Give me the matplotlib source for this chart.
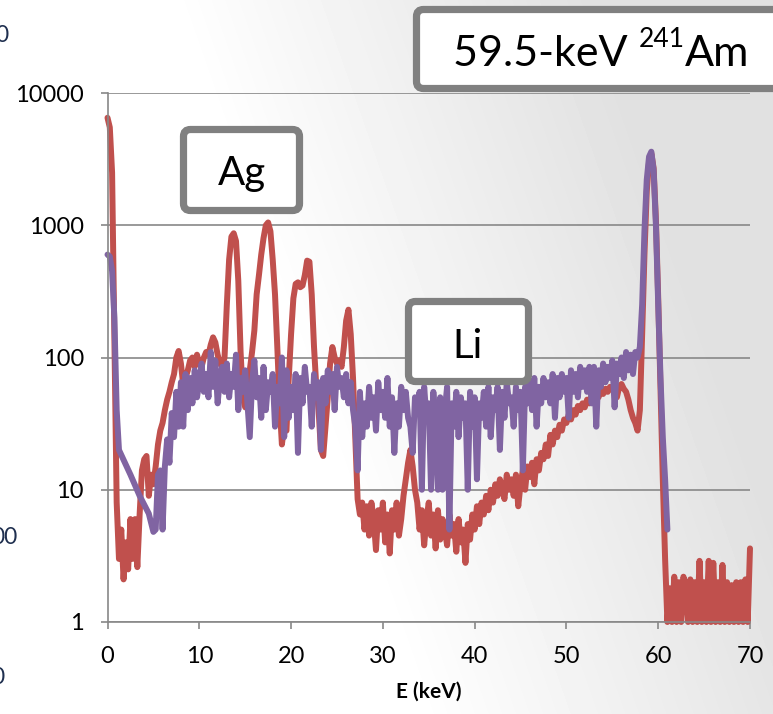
"""
241Am spectrum, Ag vs Li detector, log counts vs energy
"""
import numpy as np
import matplotlib
matplotlib.use('Agg')
import matplotlib.pyplot as plt
from matplotlib.patches import FancyBboxPatch
from matplotlib.ticker import FixedLocator, FixedFormatter, NullLocator

#######data, 0.25 keV steps#######
energy = np.arange(0, 70.001, 0.25)

nan = np.nan
# red trace (Ag)
ag_counts = np.array([
    6500, 5500, 2500, 150,    # 0
    8, 3, 5, 2.1,             # 1
    4, 2.5, 6, 3,             # 2
    6, 2.6, 6.5, 14,          # 3
    17, 18, 9, 13,            # 4
    11, 15, 22, 28,           # 5
    32, 40, 48, 55,           # 6
    65, 75, 100, 112,         # 7
    90, 62, 70, 80,           # 8
    95, 100, 85, 105,         # 9
    90, 85, 100, 110,         # 10
    105, 125, 142, 130,       # 11
    105, 90, 85, 100,         # 12
    250, 550, 820, 870,       # 13
    760, 380, 110, 50,        # 14
    42, 60, 80, 110,          # 15
    160, 300, 420, 600,       # 16
    800, 1000, 1050, 900,     # 17
    550, 300, 120, 45,        # 18
    22, 30, 28, 70,           # 19
    150, 280, 360, 370,       # 20
    340, 350, 420, 540,       # 21
    530, 300, 120, 60,        # 22
    40, 20, 18, 30,           # 23
    50, 90, 120, 100,         # 24
    90, 95, 85, 120,          # 25
    190, 230, 150, 70,        # 26
    24, 8.5, 6.5, 8,          # 27
    5, 7.5, 4.5, 8,           # 28
    6, 3.5, 7, 5,             # 29
    8, 4, 6.5, 3.3,           # 30
    7, 5, 8, 4.5,             # 31
    6, 9, 12, 16,             # 32
    20, 15, 10, 8,            # 33
    5, 7, 3.8, 6,             # 34
    8, 4.5, 6.5, 3.6,         # 35
    7, 4.2, 6, 5,             # 36
    3.8, 6.5, 4.5, 5.5,       # 37
    3.4, 6, 4, 5,             # 38
    2.8, 5.5, 4.2, 6.5,       # 39
    5, 7.5, 5.5, 8,           # 40
    6.5, 9, 7, 10,            # 41
    8, 11, 9, 12,             # 42
    10, 8.5, 13, 10,          # 43
    12, 9, 13, 7.5,           # 44
    11, 14, 10, 15,           # 45
    12.5, 16, 11, 17,         # 46
    14, 19, 17, 22,           # 47
    18, 26, 22, 28,           # 48
    25, 31, 28, 34,           # 49
    32, 37, 34, 40,           # 50
    37, 43, 40, 45,           # 51
    42, 48, 45, 52,           # 52
    47, 53, 50, 56,           # 53
    53, 58, 55, 60,           # 54
    57, 62, 50, 60,           # 55
    63, 58, 55, 48,           # 56
    40, 35, 32, 28,           # 57
    40, 150, 600, 1800,       # 58
    3000, 3500, 2700, 1100,   # 59
    280, 60, 12, 3,           # 60
    1, 1.8, 1, 2.2,           # 61
    1, 2.0, 1, 2.2,           # 62
    1.8, 1, 2.1, 1,           # 63
    2.0, 1, 2.9, 1,           # 64
    2.0, 1, 2.9, 1,           # 65
    2.8, 1, 2.0, 1,           # 66
    2.7, 1, 2.0, 1,           # 67
    1.9, 1, 2.0, 1,           # 68
    2.0, 1, 2.1, 1,           # 69
    3.6,                      # 70
])

# purple trace (Li), gaps are joined by a straight line
li_read = [
    600, 580, 450, 200,       # 0
    40, 20, nan, nan,         # 1
    nan, nan, 13, nan,        # 2
    nan, nan, 9, nan,         # 3
    nan, nan, 6.6, nan,       # 4
    4.8, 5, 13, 14,           # 5
    5, 15, 24, 16,            # 6
    38, 25, 55, 30,           # 7
    65, 30, 75, 40,           # 8
    70, 45, 80, 50,           # 9
    65, 90, 55, 75,           # 10
    50, 110, 60, 95,          # 11
    45, 70, 85, 55,           # 12
    90, 50, 75, 60,           # 13
    105, 40, 70, 55,          # 14
    80, 45, 25, 65,           # 15
    95, 50, 70, 35,           # 16
    85, 40, 65, 55,           # 17
    75, 30, 60, 45,           # 18
    100, 25, 80, 35,          # 19
    60, 40, 75, 19,           # 20
    70, 45, 85, 55,           # 21
    60, 30, 75, 50,           # 22
    65, 20, 70, 45,           # 23
    80, 55, 75, 40,           # 24
    85, 60, 70, 50,           # 25
    75, 45, 65, 40,           # 26
    30, 14, 55, 25,           # 27
    45, 30, 60, 35,           # 28
    50, 28, 65, 40,           # 29
    55, 35, 70, 30,           # 30
    50, 19, 45, 30,           # 31
    60, 40, 55, 35,           # 32
    30, 19, 50, 40,           # 33
    55, 10, 60, 35,           # 34
    45, 10, 55, 30,           # 35
    10, 50, 10, 40,           # 36
    60, 5, 45, 30,            # 37
    55, 25, 50, 35,           # 38
    45, 10, 55, 30,           # 39
    50, 12, 45, 35,           # 40
    55, 30, 60, 25,           # 41
    50, 40, 60, 20,           # 42
    55, 35, 65, 45,           # 43
    50, 30, 60, 40,           # 44
    55, 14, 60, 45,           # 45
    65, 40, 70, 30,           # 46
    60, 45, 70, 50,           # 47
    65, 45, 75, 35,           # 48
    70, 50, 75, 55,           # 49
    70, 35, 80, 55,           # 50
    75, 50, 85, 60,           # 51
    80, 55, 85, 45,           # 52
    85, 30, 80, 60,           # 53
    90, 65, 85, 70,           # 54
    95, 42, 90, 75,           # 55
    100, 70, 110, 80,         # 56
    105, 75, 110, 100,        # 57
    120, 250, 900, 2200,      # 58
    3300, 3600, 2600, 1000,   # 59
    250, 70, 25, 12,          # 60
    5,                        # 61
]
li_counts = np.full(len(energy), nan)
li_counts[:len(li_read)] = li_read

y_ticks = [1, 10, 100, 1000, 10000]
y_labels = ['1', '10', '100', '1000', '10000']
x_ticks = [0, 10, 20, 30, 40, 50, 60, 70]

RED = '#C0504D'
PURPLE = '#8064A2'
GRID = '#888888'
FONT = 'Lato'

W, H = 773, 714
fig = plt.figure(figsize=(W / 100, H / 100), dpi=100)

#######background gradient#######
xx, yy = np.meshgrid(np.arange(W), np.arange(H))
s = xx + 0.35 * (H - yy)
g = np.clip((s - 420) / 420.0, 0, 1)
img = 1 - 0.12 * g
bg = fig.add_axes([0, 0, 1, 1], zorder=0)
bg.imshow(img, cmap='gray', vmin=0, vmax=1, extent=[0, W, H, 0], aspect='auto')
bg.axis('off')

#######main chart#######
left, right, top, bottom = 107.5, 750, 93, 622
ax = fig.add_axes([left / W, 1 - bottom / H, (right - left) / W, (bottom - top) / H], zorder=1)
ax.set_facecolor('none')

ax.plot(energy, ag_counts, color=RED, lw=4.3, solid_joinstyle='round',
        solid_capstyle='round', clip_on=False)
ok = ~np.isnan(li_counts)
ax.plot(energy[ok], li_counts[ok], color=PURPLE, lw=4.3, solid_joinstyle='round',
        solid_capstyle='round', clip_on=False)

ax.set_yscale('log')
ax.set_ylim(1, 10000)
ax.set_xlim(0, 70)
ax.yaxis.set_major_locator(FixedLocator(y_ticks))
ax.yaxis.set_major_formatter(FixedFormatter(y_labels))
ax.yaxis.set_minor_locator(NullLocator())
ax.xaxis.set_major_locator(FixedLocator(x_ticks))
ax.grid(axis='y', color=GRID, lw=1.2)
ax.set_axisbelow(True)
for side in ['top', 'right']:
    ax.spines[side].set_visible(False)
for side in ['left', 'bottom']:
    ax.spines[side].set_color(GRID)
    ax.spines[side].set_linewidth(1.2)
ax.tick_params(direction='out', length=5, width=1.2, color=GRID, labelsize=17, pad=12)
for lab in ax.get_xticklabels() + ax.get_yticklabels():
    lab.set_fontfamily(FONT)
ax.set_xlabel('E (keV)', fontfamily=FONT, fontweight='bold', fontsize=15, labelpad=11)

#######boxes and labels, in pixel coords#######
ov = fig.add_axes([0, 0, 1, 1], zorder=2)
ov.set_facecolor('none')
ov.set_xlim(0, W)
ov.set_ylim(H, 0)
ov.axis('off')


def label_box(x0, y0, x1, y1):
    p = FancyBboxPatch((x0, y0), x1 - x0, y1 - y0,
                       boxstyle='round,pad=0,rounding_size=7',
                       fc='white', ec='#808080', lw=5.2)
    ov.add_patch(p)


label_box(183.5, 129.5, 299.5, 210.5)
ov.text(242, 185, 'Ag', fontfamily=FONT, fontsize=29, ha='center', va='baseline')

label_box(408.5, 301.5, 528.5, 381.5)
ov.text(468, 358, 'Li', fontfamily=FONT, fontsize=29, ha='center', va='baseline')

label_box(416.5, 9.5, 810, 88.5)
r = fig.canvas.get_renderer()
t1 = ov.text(453, 66, '59.5-keV ', fontfamily=FONT, fontsize=31, ha='left', va='baseline')
x_end = ov.transData.inverted().transform(t1.get_window_extent(r))[1, 0]
t2 = ov.text(x_end, 47, '241', fontfamily=FONT, fontsize=19, ha='left', va='baseline')
x_end = ov.transData.inverted().transform(t2.get_window_extent(r))[1, 0]
ov.text(x_end, 66, 'Am', fontfamily=FONT, fontsize=31, ha='left', va='baseline')

# pieces of the neighbouring chart cut at the left edge
ov.text(8, 35, '0', fontfamily=FONT, fontsize=16.5, ha='right', va='center', color='#1F2F4F')
ov.text(18, 537, '00', fontfamily=FONT, fontsize=16.5, ha='right', va='center', color='#1F2F4F')
ov.text(5, 677, '0', fontfamily=FONT, fontsize=16.5, ha='right', va='center', color='#1F2F4F')

fig.savefig('out.png', dpi=100)
